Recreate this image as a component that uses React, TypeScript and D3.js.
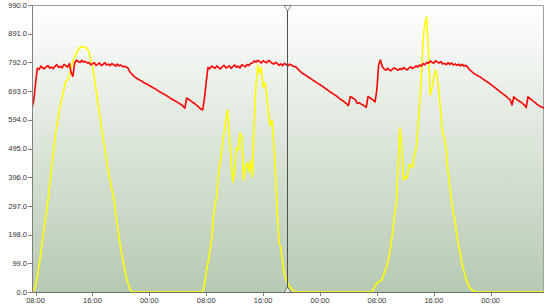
import React from "react";
import * as d3 from "d3";

// ---- data (sampled every 15 minutes from 07:30 on day 1, 72 hours) ----
const START = new Date(2021, 0, 1, 7, 30);
const STEP_MIN = 15;

// red series (each line = one hour, offset from 07:30)
const RED: number[] = [
  635, 660, 720, 772, // h0
  768, 779, 773, 770, // h1
  777, 781, 772, 776, // h2
  770, 779, 784, 775, // h3
  778, 773, 785, 781, // h4
  776, 788, 757, 744, // h5
  790, 800, 795, 792, // h6
  799, 793, 796, 790, // h7
  792, 784, 787, 791, // h8
  782, 786, 790, 781, // h9
  785, 791, 783, 786, // h10
  781, 788, 784, 779, // h11
  786, 780, 783, 777, // h12
  779, 776, 772, 760, // h13
  753, 746, 741, 737, // h14
  733, 730, 726, 722, // h15
  719, 716, 712, 709, // h16
  705, 702, 698, 694, // h17
  690, 687, 683, 680, // h18
  676, 672, 668, 664, // h19
  661, 657, 654, 650, // h20
  646, 641, 634, 669, // h21
  665, 661, 656, 652, // h22
  647, 642, 637, 631, // h23
  628, 668, 725, 775, // h24
  770, 779, 775, 772, // h25
  780, 774, 769, 777, // h26
  782, 773, 776, 780, // h27
  771, 778, 783, 775, // h28
  779, 773, 784, 780, // h29
  777, 785, 781, 788, // h30
  790, 797, 793, 799, // h31
  795, 790, 798, 794, // h32
  791, 799, 795, 789, // h33
  786, 792, 788, 782, // h34
  787, 781, 789, 784, // h35
  780, 786, 783, 778, // h36
  778, 773, 766, 760, // h37
  755, 751, 747, 743, // h38
  739, 735, 731, 727, // h39
  723, 719, 715, 711, // h40
  707, 702, 698, 694, // h41
  689, 685, 681, 677, // h42
  672, 667, 663, 659, // h43
  654, 649, 643, 674, // h44
  671, 667, 663, 650, // h45
  653, 649, 645, 642, // h46
  637, 674, 670, 666, // h47
  661, 656, 700, 785, // h48
  800, 778, 770, 765, // h49
  772, 766, 763, 770, // h50
  773, 768, 765, 771, // h51
  767, 774, 770, 766, // h52
  772, 777, 771, 775, // h53
  780, 776, 783, 779, // h54
  788, 784, 792, 789, // h55
  797, 792, 789, 798, // h56
  793, 790, 795, 786, // h57
  789, 784, 791, 785, // h58
  790, 783, 787, 782, // h59
  786, 780, 785, 779, // h60
  782, 776, 768, 762, // h61
  757, 752, 749, 745, // h62
  742, 738, 733, 729, // h63
  725, 721, 716, 712, // h64
  707, 702, 697, 692, // h65
  688, 683, 678, 673, // h66
  668, 663, 645, 673, // h67
  668, 663, 659, 655, // h68
  650, 645, 636, 673, // h69
  668, 663, 658, 653, // h70
  648, 644, 640, 637, // h71
  635, // h72
];

// yellow series
const YELLOW: number[] = [
  0, 5, 25, 55, // h0
  93, 138, 183, 224, // h1
  269, 317, 372, 424, // h2
  479, 535, 576, 614, // h3
  648, 673, 700, 728, // h4
  731, 748, 774, 799, // h5
  810, 824, 835, 845, // h6
  846, 845, 843, 840, // h7
  828, 800, 780, 742, // h8
  697, 655, 614, 573, // h9
  531, 490, 452, 414, // h10
  383, 352, 324, 272, // h11
  228, 186, 148, 115, // h12
  83, 52, 31, 12, // h13
  3, 0, 0, 0, // h14
  0, 0, 0, 0, // h15
  0, 0, 0, 0, // h16
  0, 0, 0, 0, // h17
  0, 0, 0, 0, // h18
  0, 0, 0, 0, // h19
  0, 0, 0, 0, // h20
  0, 0, 0, 0, // h21
  0, 0, 0, 0, // h22
  0, 0, 0, 0, // h23
  2, 24, 69, 103, // h24
  138, 179, 255, 300, // h25
  335, 414, 455, 504, // h26
  548, 593, 628, 541, // h27
  455, 379, 421, 497, // h28
  490, 548, 535, 386, // h29
  431, 445, 414, 455, // h30
  397, 593, 714, 783, // h31
  755, 773, 707, 721, // h32
  686, 610, 573, 593, // h33
  517, 410, 266, 169, // h34
  152, 103, 62, 41, // h35
  28, 18, 10, 5, // h36
  2, 0, 0, 0, // h37
  0, 0, 0, 0, // h38
  0, 0, 0, 0, // h39
  0, 0, 0, 0, // h40
  0, 0, 0, 0, // h41
  0, 0, 0, 0, // h42
  0, 0, 0, 0, // h43
  0, 0, 0, 0, // h44
  0, 0, 0, 0, // h45
  0, 0, 0, 0, // h46
  0, 0, 0, 0, // h47
  10, 21, 31, 35, // h48
  38, 45, 62, 79, // h49
  97, 128, 166, 214, // h50
  272, 307, 455, 566, // h51
  497, 386, 397, 393, // h52
  438, 438, 428, 473, // h53
  490, 559, 645, 749, // h54
  870, 928, 950, 820, // h55
  680, 704, 738, 766, // h56
  738, 690, 611, 545, // h57
  530, 490, 414, 365, // h58
  317, 272, 245, 193, // h59
  159, 131, 93, 72, // h60
  48, 31, 17, 10, // h61
  5, 2, 0, 0, // h62
  0, 0, 0, 0, // h63
  0, 0, 0, 0, // h64
  0, 0, 0, 0, // h65
  0, 0, 0, 0, // h66
  0, 0, 0, 0, // h67
  0, 0, 0, 0, // h68
  0, 0, 0, 0, // h69
  0, 0, 0, 0, // h70
  0, 0, 0, 0, // h71
  0, // h72
];

const Y_TICKS = [0, 99, 198, 297, 396, 495, 594, 693, 792, 891, 990];
const X_TICKS = [
  new Date(2021, 0, 1, 8, 0),
  new Date(2021, 0, 1, 16, 0),
  new Date(2021, 0, 2, 0, 0),
  new Date(2021, 0, 2, 8, 0),
  new Date(2021, 0, 2, 16, 0),
  new Date(2021, 0, 3, 0, 0),
  new Date(2021, 0, 3, 8, 0),
  new Date(2021, 0, 3, 16, 0),
  new Date(2021, 0, 4, 0, 0),
];
const CURSOR = new Date(2021, 0, 2, 19, 22);
const END = new Date(2021, 0, 4, 7, 30);

// ---- layout ----
const W = 550;
const H = 305;
const X0 = 32;
const X1 = 544;
const Y0 = 5;
const Y1 = 292;
const FONT = "'Liberation Sans', Arial, sans-serif";

export default function App() {
  const x = d3.scaleTime().domain([START, END]).range([X0, X1]);
  const y = d3.scaleLinear().domain([0, 990]).range([Y1, Y0]);
  const t = (i: number) => new Date(START.getTime() + i * STEP_MIN * 60000);
  const line = d3
    .line<number>()
    .x((_, i) => x(t(i)))
    .y((d) => y(d));
  const fmtY = d3.format(".1f");
  const fmtX = d3.timeFormat("%H:%M");
  const cx = Math.round(x(CURSOR)) + 0.5;

  return (
    <svg
      width={W}
      height={H}
      style={{ position: "absolute", left: 0, top: 0, background: "#fff" }}
    >
      <defs>
        <linearGradient id="bg" x1="0" y1="0" x2="0" y2="1">
          <stop offset="0%" stopColor="#ffffff" />
          <stop offset="100%" stopColor="#b6cab2" />
        </linearGradient>
        <clipPath id="clip">
          <rect x={X0} y={Y0 - 1} width={X1 - X0} height={Y1 - Y0 + 2} />
        </clipPath>
      </defs>
      <rect x={X0} y={Y0} width={X1 - X0} height={Y1 - Y0} fill="url(#bg)" />
      {/* border top/right */}
      <path
        d={`M${X0},${Y0 + 0.5}H${X1 - 0.5}V${Y1}`}
        fill="none"
        stroke="#a0a0a0"
        strokeWidth={1}
      />
      <g clipPath="url(#clip)">
        <path d={line(YELLOW) || ""} fill="none" stroke="#ffff00" strokeWidth={1.6} strokeLinejoin="round" />
        <path d={line(RED) || ""} fill="none" stroke="#ff0000" strokeWidth={1.6} strokeLinejoin="round" />
      </g>
      {/* axes */}
      <line x1={X0 + 0.5} x2={X0 + 0.5} y1={Y0} y2={Y1} stroke="#808080" />
      <line x1={X0} x2={X1} y1={Y1 + 0.5} y2={Y1 + 0.5} stroke="#707070" />
      {Y_TICKS.map((v) => (
        <g key={v}>
          <line x1={X0 - 4} x2={X0} y1={Math.round(y(v)) + 0.5} y2={Math.round(y(v)) + 0.5} stroke="#808080" />
          <text
            x={X0 - 5}
            y={y(v)}
            dy="0.35em"
            textAnchor="end"
            fontSize={7.5}
            fontFamily={FONT}
            fill="#333"
          >
            {fmtY(v)}
          </text>
        </g>
      ))}
      {X_TICKS.map((d, i) => (
        <g key={i}>
          <line x1={Math.round(x(d)) + 0.5} x2={Math.round(x(d)) + 0.5} y1={Y1} y2={Y1 + 4} stroke="#808080" />
          <text
            x={x(d)}
            y={Y1 + 11}
            textAnchor="middle"
            fontSize={7.5}
            fontFamily={FONT}
            fill="#333"
          >
            {fmtX(d)}
          </text>
        </g>
      ))}
      {/* cursor */}
      <line x1={cx} x2={cx} y1={Y0} y2={Y1} stroke="#505050" strokeWidth={1} />
      <path
        d={`M${cx - 3.5},${Y0 + 0.5}L${cx + 3.5},${Y0 + 0.5}L${cx},${Y0 + 6}Z`}
        fill="#fff"
        stroke="#606060"
        strokeWidth={0.8}
      />
      <path
        d={`M${cx - 3.5},${Y1 + 0.5}L${cx + 3.5},${Y1 + 0.5}L${cx},${Y1 - 5}Z`}
        fill="#e8ece6"
        stroke="#606060"
        strokeWidth={0.8}
      />
    </svg>
  );
}
